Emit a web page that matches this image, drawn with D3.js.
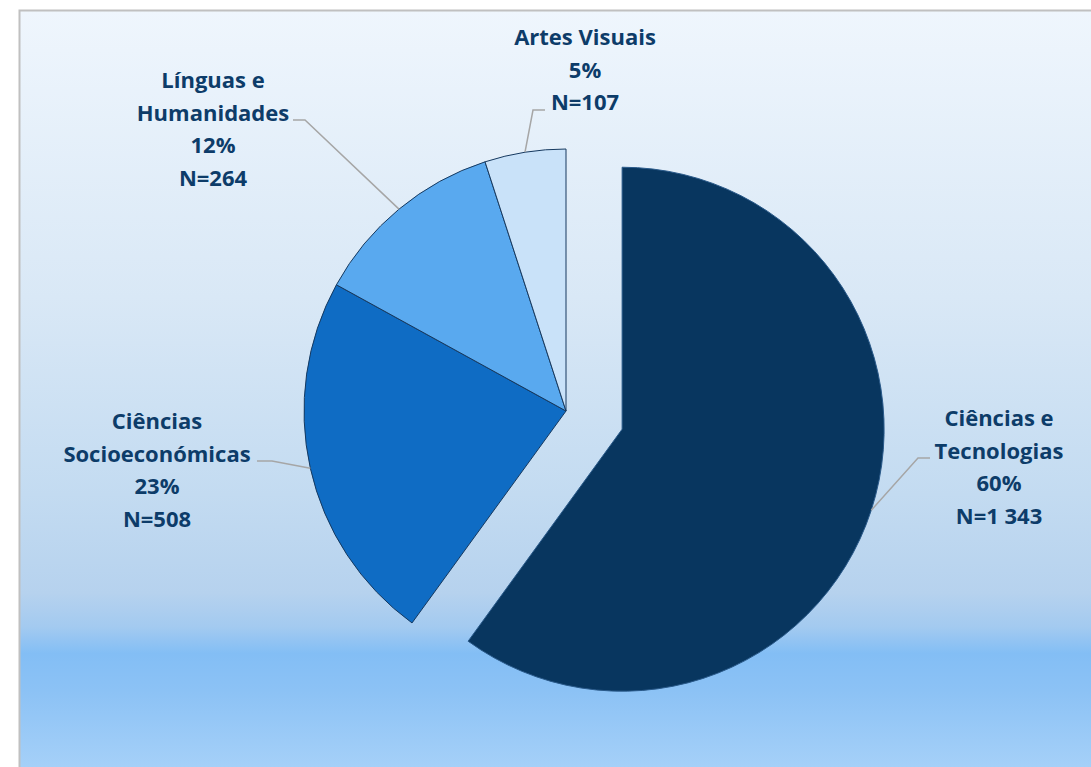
<!DOCTYPE html>
<html>
<head>
<meta charset="utf-8">
<script src="https://cdn.jsdelivr.net/npm/d3@7"></script>
<style>
  html, body { margin: 0; padding: 0; background: #ffffff; }
  svg { display: block; }
</style>
</head>
<body>
<svg id="chart" width="1091" height="767"></svg>
<script>
// ---- data ----
const categories = ["Ciências e Tecnologias", "Ciências Socioeconómicas", "Línguas e Humanidades", "Artes Visuais"];
const percents = [60, 23, 12, 5];
const counts = [1343, 508, 264, 107];
const percentLabels = ["60%", "23%", "12%", "5%"];
const countLabels = ["N=1 343", "N=508", "N=264", "N=107"];
const nameLines = [["Ciências e", "Tecnologias"], ["Ciências", "Socioeconómicas"], ["Línguas e", "Humanidades"], ["Artes Visuais"]];
const sliceColors = ["#08365f", "#0f6cc4", "#59a9ef", "#c9e2f9"];

// ---- layout ----
const W = 1091, H = 767;
const cx = 566, cy = 411, R = 262;
const explodeIdx = 0, explodeDist = 59;
// label layout: centre x, first baseline y, elbow point, horizontal end point
const labelLayout = [
  { x: 999, y: 426, elbow: [918, 458], end: [930, 458] },
  { x: 157, y: 429, elbow: [272, 461], end: [257, 461] },
  { x: 213, y: 88,  elbow: [305, 120], end: [293, 120] },
  { x: 585, y: 45,  elbow: [533, 110], end: [545, 110] }
];
const lineH = 32.7;

const svg = d3.select("#chart");
const defs = svg.append("defs");
const grad = defs.append("linearGradient")
  .attr("id", "bg").attr("gradientUnits", "userSpaceOnUse")
  .attr("x1", 0).attr("y1", 10).attr("x2", 0).attr("y2", 767);
[[0, "#eff6fd"], [0.38, "#d9e8f6"], [0.64, "#c3dbf1"], [0.77, "#b6d2ee"], [0.815, "#a3caf0"], [0.85, "#83bef5"], [0.9, "#8cc2f5"], [1, "#a5d0f8"]]
  .forEach(([o, c]) => grad.append("stop").attr("offset", o).attr("stop-color", c));

svg.append("rect")
  .attr("x", 19.5).attr("y", 10.5).attr("width", W).attr("height", H)
  .attr("fill", "url(#bg)").attr("stroke", "#c0c0c0").attr("stroke-width", 2);

const pie = d3.pie().sort(null).value(d => d);
const arcs = pie(percents);
const arc = d3.arc().innerRadius(0).outerRadius(R);

function offsetOf(i, a) {
  if (i !== explodeIdx) return [0, 0];
  const m = (a.startAngle + a.endAngle) / 2;
  return [Math.sin(m) * explodeDist, -Math.cos(m) * explodeDist];
}

const g = svg.append("g").attr("transform", `translate(${cx},${cy})`);
g.selectAll("path.slice").data(arcs).join("path")
  .attr("class", "slice")
  .attr("transform", (d, i) => { const o = offsetOf(i, d); return `translate(${o[0]},${o[1]})`; })
  .attr("d", arc)
  .attr("fill", (d, i) => sliceColors[i])
  .attr("stroke", (d, i) => i === explodeIdx ? "#2a5a8a" : "#16395f")
  .attr("stroke-width", 1).attr("stroke-linejoin", "round");

// leader lines
arcs.forEach((d, i) => {
  const m = (d.startAngle + d.endAngle) / 2;
  const o = offsetOf(i, d);
  const sx = cx + o[0] + Math.sin(m) * R;
  const sy = cy + o[1] - Math.cos(m) * R;
  const L = labelLayout[i];
  svg.append("polyline")
    .attr("points", [[sx, sy], L.elbow, L.end].map(p => p.join(",")).join(" "))
    .attr("fill", "none").attr("stroke", "#a6a6a6").attr("stroke-width", 1.5);
});

// labels
arcs.forEach((d, i) => {
  const L = labelLayout[i];
  const lines = nameLines[i].concat([percentLabels[i], countLabels[i]]);
  const t = svg.append("text")
    .attr("text-anchor", "middle")
    .attr("font-family", "'Open Sans', Lato, sans-serif")
    .attr("font-weight", "bold")
    .attr("font-size", 22)
    .attr("fill", "#0d3c69");
  lines.forEach((s, k) => {
    t.append("tspan").attr("x", L.x).attr("y", L.y + k * lineH).text(s);
  });
});
</script>
</body>
</html>
